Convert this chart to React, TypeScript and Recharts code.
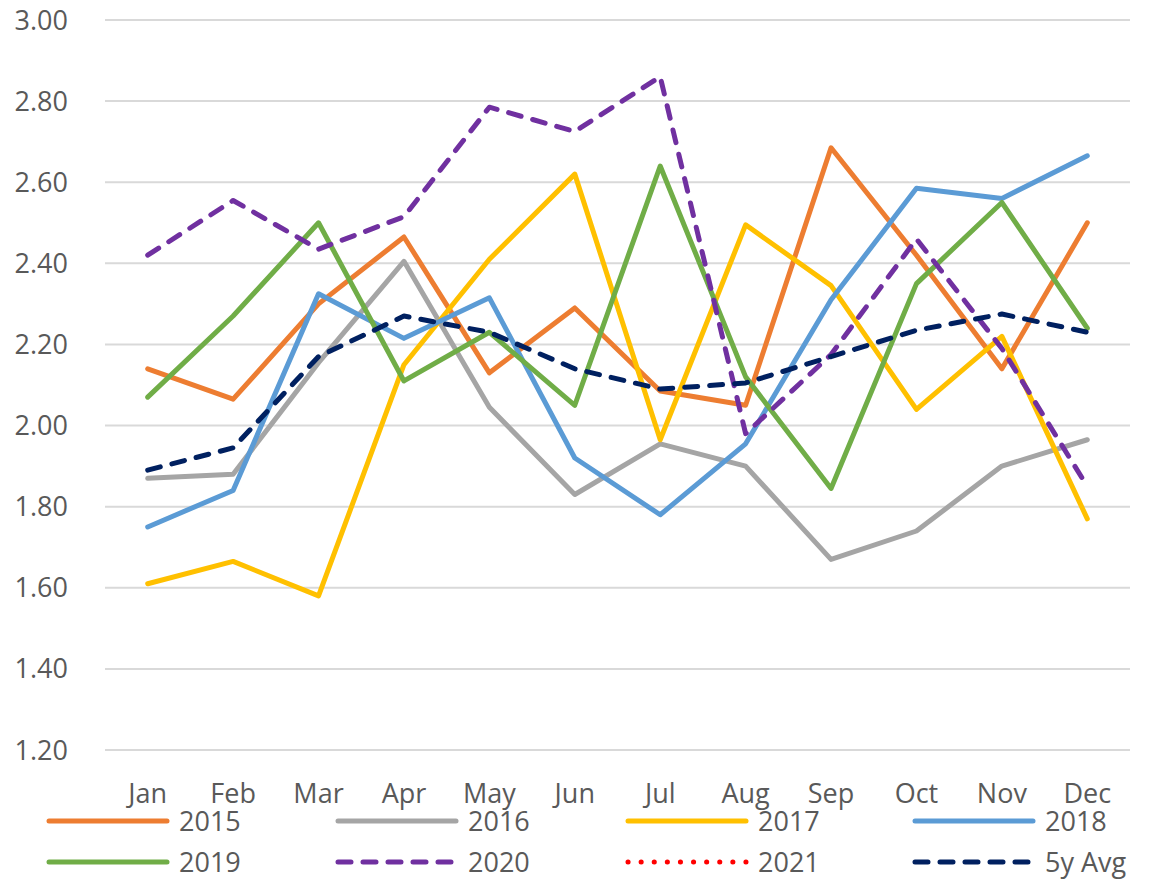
import { LineChart, Line, XAxis, YAxis, CartesianGrid } from "recharts";

const months = ["Jan", "Feb", "Mar", "Apr", "May", "Jun", "Jul", "Aug", "Sep", "Oct", "Nov", "Dec"];

const y2015 = [2.14, 2.065, 2.3, 2.465, 2.13, 2.29, 2.085, 2.05, 2.685, 2.42, 2.14, 2.5];
const y2016 = [1.87, 1.88, 2.155, 2.405, 2.045, 1.83, 1.955, 1.9, 1.67, 1.74, 1.9, 1.965];
const y2017 = [1.61, 1.665, 1.58, 2.15, 2.41, 2.62, 1.965, 2.495, 2.345, 2.04, 2.22, 1.77];
const y2018 = [1.75, 1.84, 2.325, 2.215, 2.315, 1.92, 1.78, 1.955, 2.31, 2.585, 2.56, 2.665];
const y2019 = [2.07, 2.27, 2.5, 2.11, 2.23, 2.05, 2.64, 2.12, 1.845, 2.35, 2.55, 2.24];
const y2020 = [2.42, 2.555, 2.435, 2.515, 2.785, 2.725, 2.86, 1.98, 2.175, 2.46, 2.19, 1.85];
const y2021: (number | null)[] = [null, null, null, null, null, null, null, null, null, null, null, null];
const avg5y = [1.89, 1.945, 2.17, 2.27, 2.23, 2.14, 2.09, 2.105, 2.17, 2.235, 2.275, 2.23];

const yTicks = [1.2, 1.4, 1.6, 1.8, 2.0, 2.2, 2.4, 2.6, 2.8, 3.0];

const series = [
  { key: "2015", values: y2015, color: "#ED7D31", dash: undefined },
  { key: "2016", values: y2016, color: "#A5A5A5", dash: undefined },
  { key: "2017", values: y2017, color: "#FFC000", dash: undefined },
  { key: "2018", values: y2018, color: "#5B9BD5", dash: undefined },
  { key: "2019", values: y2019, color: "#70AD47", dash: undefined },
  { key: "2020", values: y2020, color: "#7030A0", dash: "13 12" },
  { key: "2021", values: y2021, color: "#FF0000", dash: "0.1 13" },
  { key: "5y Avg", values: avg5y, color: "#002060", dash: "13 12" },
];

const data = months.map((m, i) => {
  const row: Record<string, string | number | null> = { month: m };
  series.forEach((s) => {
    row[s.key] = s.values[i];
  });
  return row;
});

const font = "'Open Sans', 'DejaVu Sans', sans-serif";
const textColor = "#595959";

export default function App() {
  // shift up over the body margin so the top tick label has room
  return (
    <div style={{ position: "relative", width: 1142, height: 884, marginTop: -8, fontFamily: font }}>
      <LineChart
        width={1142}
        height={884}
        data={data}
        margin={{ top: 20, right: 20, left: 0, bottom: 74 }}
      >
        <CartesianGrid vertical={false} stroke="#D9D9D9" strokeWidth={2} />
        <XAxis
          dataKey="month"
          axisLine={false}
          tickLine={false}
          tickSize={0}
          tickMargin={34}
          height={60}
          padding={{ left: 42.7, right: 42.7 }}
          interval={0}
          tick={{ fill: textColor, fontSize: 27, fontFamily: font }}
        />
        <YAxis
          domain={[1.2, 3.0]}
          ticks={yTicks}
          axisLine={false}
          tickLine={false}
          tickSize={0}
          tickMargin={37}
          width={97}
          tickFormatter={(v: number) => v.toFixed(2)}
          tick={{ fill: textColor, fontSize: 27, fontFamily: font }}
        />
        {series.map((s) => (
          <Line
            key={s.key}
            dataKey={s.key}
            stroke={s.color}
            strokeWidth={5}
            strokeDasharray={s.dash}
            strokeLinecap="round"
            strokeLinejoin="round"
            dot={false}
            activeDot={false}
            isAnimationActive={false}
          />
        ))}
      </LineChart>
      <div
        style={{
          position: "absolute",
          left: 38,
          top: 800,
          width: 1110,
          display: "grid",
          gridTemplateColumns: "289px 290px 287px 240px",
          rowGap: 0,
        }}
      >
        {series.map((s) => (
          <div key={s.key} style={{ display: "flex", alignItems: "center", height: 41 }}>
            <svg width={124} height={10} style={{ flex: "none" }}>
              <line
                x1={3}
                y1={5}
                x2={121}
                y2={5}
                stroke={s.color}
                strokeWidth={5}
                strokeLinecap="round"
                strokeDasharray={s.dash}
              />
            </svg>
            <span style={{ marginLeft: 9, fontSize: 27, color: textColor, lineHeight: "30px" }}>{s.key}</span>
          </div>
        ))}
      </div>
    </div>
  );
}
